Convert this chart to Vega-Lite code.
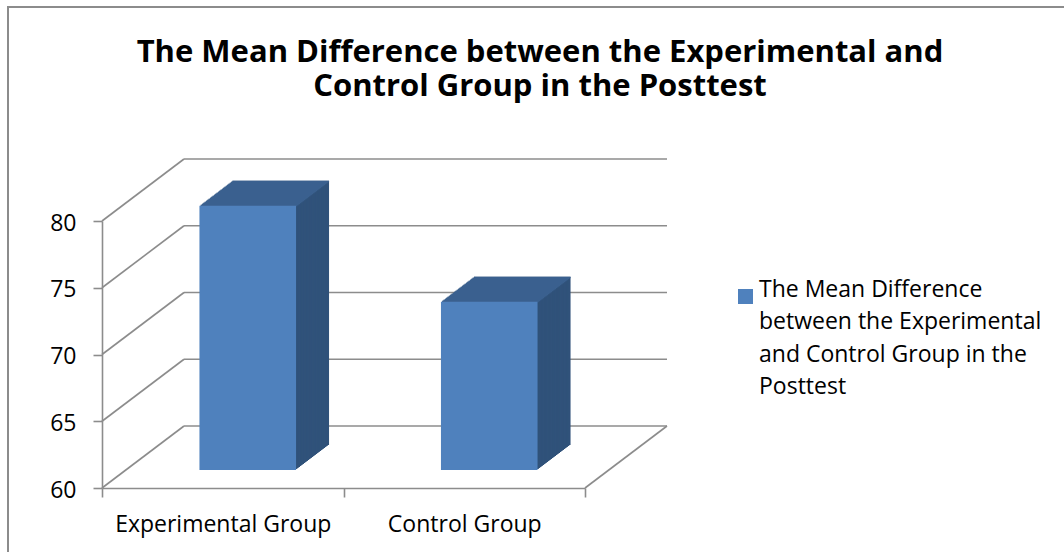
{
  "$schema": "https://vega.github.io/schema/vega-lite/v6.json",
  "width": 1056,
  "height": 545,
  "autosize": "none",
  "padding": {"left": 8, "top": 7, "right": 0, "bottom": 0},
  "background": "white",
  "config": {
    "view": {"stroke": "#8c8c8c", "strokeWidth": 2, "strokeDash": [1056, 1601, 545]},
    "style": {"guide-label": {"lineHeight": 32.5}}
  },
  "title": {
    "text": ["The Mean Difference between the Experimental and", "Control Group in the Posttest"],
    "font": "Open Sans",
    "fontSize": 31,
    "fontWeight": "bold",
    "color": "#000000",
    "anchor": "middle",
    "frame": "group",
    "baseline": "top",
    "lineHeight": 34.5,
    "offset": 0,
    "dx": 4,
    "dy": 96
  },
  "data": {
    "values": [
      {"group": "Experimental Group", "value": 79.8},
      {"group": "Control Group", "value": 72.6}
    ]
  },
  "layer": [
    {
      "mark": {"type": "bar", "opacity": 0, "width": {"band": 0.4}, "xOffset": 25, "yOffset": -18, "y2Offset": -18},
      "encoding": {
        "x": {
          "field": "group",
          "type": "nominal",
          "sort": null,
          "title": null,
          "scale": {"type": "band", "domain": ["Experimental Group", "Control Group"], "range": [94, 577], "paddingInner": 0, "paddingOuter": 0},
          "axis": {
            "orient": "bottom",
            "offset": -64,
            "title": null,
            "labelAngle": 0,
            "tickBand": "extent",
            "tickSize": 9,
            "tickWidth": 1.6,
            "tickColor": "#8c8c8c",
            "domainColor": "#8c8c8c",
            "domainWidth": 1.6,
            "labelFont": "Open Sans",
            "labelFontSize": 23,
            "labelColor": "#000000",
            "labelPadding": 16,
            "labelLimit": 0,
            "grid": false
          }
        },
        "y": {
          "field": "value",
          "type": "quantitative",
          "title": null,
          "scale": {"domain": [60, 80], "range": [481, 214], "nice": false, "zero": false},
          "axis": {
            "orient": "left",
            "offset": -94,
            "title": null,
            "values": [60, 65, 70, 75, 80],
            "tickSize": 9,
            "tickWidth": 1.6,
            "tickColor": "#8c8c8c",
            "domainColor": "#8c8c8c",
            "domainWidth": 1.6,
            "labelFont": "Open Sans",
            "labelFontSize": 23,
            "labelColor": "#000000",
            "labelPadding": 17,
            "labelOffset": 2,
            "grid": false
          }
        },
        "y2": {"datum": 60}
      }
    },
    {
      "data": {"values": [{"t": 60}, {"t": 65}, {"t": 70}, {"t": 75}, {"t": 80}]},
      "mark": {"type": "rule", "color": "#8c8c8c", "strokeWidth": 1.6, "xOffset": 82, "x2Offset": 82, "yOffset": -62},
      "encoding": {
        "x": {"datum": "Experimental Group", "type": "nominal", "bandPosition": 0, "title": null},
        "x2": {"datum": "Control Group", "bandPosition": 1},
        "y": {"field": "t", "type": "quantitative", "title": null}
      }
    },
    {
      "data": {"values": [{"t": 60}, {"t": 65}, {"t": 70}, {"t": 75}, {"t": 80}]},
      "mark": {"type": "rule", "color": "#8c8c8c", "strokeWidth": 1.6, "x2Offset": 82, "y2Offset": -62},
      "encoding": {
        "x": {"datum": "Experimental Group", "type": "nominal", "bandPosition": 0, "title": null},
        "x2": {"datum": "Experimental Group", "bandPosition": 0},
        "y": {"field": "t", "type": "quantitative", "title": null},
        "y2": {"field": "t"}
      }
    },
    {
      "data": {"values": [{"t": 60}]},
      "mark": {"type": "rule", "color": "#8c8c8c", "strokeWidth": 1.6, "x2Offset": 82, "y2Offset": -62},
      "encoding": {
        "x": {"datum": "Control Group", "type": "nominal", "bandPosition": 1, "title": null},
        "x2": {"datum": "Control Group", "bandPosition": 1},
        "y": {"field": "t", "type": "quantitative", "title": null},
        "y2": {"field": "t"}
      }
    },
    {
      "encoding": {
        "x": {"field": "group", "type": "nominal", "sort": null, "title": null},
        "y": {"field": "value", "type": "quantitative", "title": null},
        "y2": {"datum": 60}
      },
      "layer": [
        {"mark": {"type": "bar", "color": "#30527a", "width": {"band": 0.4}, "xOffset": 58, "yOffset": -43, "y2Offset": -43}},
        {"mark": {"type": "bar", "color": "#30527a", "width": {"band": 0.4}, "xOffset": 56.68, "yOffset": -42, "y2Offset": -42}},
        {"mark": {"type": "bar", "color": "#30527a", "width": {"band": 0.4}, "xOffset": 55.36, "yOffset": -41, "y2Offset": -41}},
        {"mark": {"type": "bar", "color": "#30527a", "width": {"band": 0.4}, "xOffset": 54.04, "yOffset": -40, "y2Offset": -40}},
        {"mark": {"type": "bar", "color": "#30527a", "width": {"band": 0.4}, "xOffset": 52.72, "yOffset": -39, "y2Offset": -39}},
        {"mark": {"type": "bar", "color": "#30527a", "width": {"band": 0.4}, "xOffset": 51.4, "yOffset": -38, "y2Offset": -38}},
        {"mark": {"type": "bar", "color": "#30527a", "width": {"band": 0.4}, "xOffset": 50.08, "yOffset": -37, "y2Offset": -37}},
        {"mark": {"type": "bar", "color": "#30527a", "width": {"band": 0.4}, "xOffset": 48.76, "yOffset": -36, "y2Offset": -36}},
        {"mark": {"type": "bar", "color": "#30527a", "width": {"band": 0.4}, "xOffset": 47.44, "yOffset": -35, "y2Offset": -35}},
        {"mark": {"type": "bar", "color": "#30527a", "width": {"band": 0.4}, "xOffset": 46.12, "yOffset": -34, "y2Offset": -34}},
        {"mark": {"type": "bar", "color": "#30527a", "width": {"band": 0.4}, "xOffset": 44.8, "yOffset": -33, "y2Offset": -33}},
        {"mark": {"type": "bar", "color": "#30527a", "width": {"band": 0.4}, "xOffset": 43.48, "yOffset": -32, "y2Offset": -32}},
        {"mark": {"type": "bar", "color": "#30527a", "width": {"band": 0.4}, "xOffset": 42.16, "yOffset": -31, "y2Offset": -31}},
        {"mark": {"type": "bar", "color": "#30527a", "width": {"band": 0.4}, "xOffset": 40.84, "yOffset": -30, "y2Offset": -30}},
        {"mark": {"type": "bar", "color": "#30527a", "width": {"band": 0.4}, "xOffset": 39.52, "yOffset": -29, "y2Offset": -29}},
        {"mark": {"type": "bar", "color": "#30527a", "width": {"band": 0.4}, "xOffset": 38.2, "yOffset": -28, "y2Offset": -28}},
        {"mark": {"type": "bar", "color": "#30527a", "width": {"band": 0.4}, "xOffset": 36.88, "yOffset": -27, "y2Offset": -27}},
        {"mark": {"type": "bar", "color": "#30527a", "width": {"band": 0.4}, "xOffset": 35.56, "yOffset": -26, "y2Offset": -26}},
        {"mark": {"type": "bar", "color": "#30527a", "width": {"band": 0.4}, "xOffset": 34.24, "yOffset": -25, "y2Offset": -25}},
        {"mark": {"type": "bar", "color": "#30527a", "width": {"band": 0.4}, "xOffset": 32.92, "yOffset": -24, "y2Offset": -24}},
        {"mark": {"type": "bar", "color": "#30527a", "width": {"band": 0.4}, "xOffset": 31.6, "yOffset": -23, "y2Offset": -23}},
        {"mark": {"type": "bar", "color": "#30527a", "width": {"band": 0.4}, "xOffset": 30.28, "yOffset": -22, "y2Offset": -22}},
        {"mark": {"type": "bar", "color": "#30527a", "width": {"band": 0.4}, "xOffset": 28.96, "yOffset": -21, "y2Offset": -21}},
        {"mark": {"type": "bar", "color": "#30527a", "width": {"band": 0.4}, "xOffset": 27.64, "yOffset": -20, "y2Offset": -20}},
        {"mark": {"type": "bar", "color": "#30527a", "width": {"band": 0.4}, "xOffset": 26.32, "yOffset": -19, "y2Offset": -19}}
      ]
    },
    {
      "encoding": {
        "x": {"field": "group", "type": "nominal", "sort": null, "title": null},
        "y": {"field": "value", "type": "quantitative", "title": null},
        "y2": {"field": "value"}
      },
      "layer": [
        {"mark": {"type": "bar", "color": "#3b618f", "width": {"band": 0.4}, "xOffset": 58, "yOffset": -43, "y2Offset": -41.5}},
        {"mark": {"type": "bar", "color": "#3b618f", "width": {"band": 0.4}, "xOffset": 56.68, "yOffset": -42, "y2Offset": -40.5}},
        {"mark": {"type": "bar", "color": "#3b618f", "width": {"band": 0.4}, "xOffset": 55.36, "yOffset": -41, "y2Offset": -39.5}},
        {"mark": {"type": "bar", "color": "#3b618f", "width": {"band": 0.4}, "xOffset": 54.04, "yOffset": -40, "y2Offset": -38.5}},
        {"mark": {"type": "bar", "color": "#3b618f", "width": {"band": 0.4}, "xOffset": 52.72, "yOffset": -39, "y2Offset": -37.5}},
        {"mark": {"type": "bar", "color": "#3b618f", "width": {"band": 0.4}, "xOffset": 51.4, "yOffset": -38, "y2Offset": -36.5}},
        {"mark": {"type": "bar", "color": "#3b618f", "width": {"band": 0.4}, "xOffset": 50.08, "yOffset": -37, "y2Offset": -35.5}},
        {"mark": {"type": "bar", "color": "#3b618f", "width": {"band": 0.4}, "xOffset": 48.76, "yOffset": -36, "y2Offset": -34.5}},
        {"mark": {"type": "bar", "color": "#3b618f", "width": {"band": 0.4}, "xOffset": 47.44, "yOffset": -35, "y2Offset": -33.5}},
        {"mark": {"type": "bar", "color": "#3b618f", "width": {"band": 0.4}, "xOffset": 46.12, "yOffset": -34, "y2Offset": -32.5}},
        {"mark": {"type": "bar", "color": "#3b618f", "width": {"band": 0.4}, "xOffset": 44.8, "yOffset": -33, "y2Offset": -31.5}},
        {"mark": {"type": "bar", "color": "#3b618f", "width": {"band": 0.4}, "xOffset": 43.48, "yOffset": -32, "y2Offset": -30.5}},
        {"mark": {"type": "bar", "color": "#3b618f", "width": {"band": 0.4}, "xOffset": 42.16, "yOffset": -31, "y2Offset": -29.5}},
        {"mark": {"type": "bar", "color": "#3b618f", "width": {"band": 0.4}, "xOffset": 40.84, "yOffset": -30, "y2Offset": -28.5}},
        {"mark": {"type": "bar", "color": "#3b618f", "width": {"band": 0.4}, "xOffset": 39.52, "yOffset": -29, "y2Offset": -27.5}},
        {"mark": {"type": "bar", "color": "#3b618f", "width": {"band": 0.4}, "xOffset": 38.2, "yOffset": -28, "y2Offset": -26.5}},
        {"mark": {"type": "bar", "color": "#3b618f", "width": {"band": 0.4}, "xOffset": 36.88, "yOffset": -27, "y2Offset": -25.5}},
        {"mark": {"type": "bar", "color": "#3b618f", "width": {"band": 0.4}, "xOffset": 35.56, "yOffset": -26, "y2Offset": -24.5}},
        {"mark": {"type": "bar", "color": "#3b618f", "width": {"band": 0.4}, "xOffset": 34.24, "yOffset": -25, "y2Offset": -23.5}},
        {"mark": {"type": "bar", "color": "#3b618f", "width": {"band": 0.4}, "xOffset": 32.92, "yOffset": -24, "y2Offset": -22.5}},
        {"mark": {"type": "bar", "color": "#3b618f", "width": {"band": 0.4}, "xOffset": 31.6, "yOffset": -23, "y2Offset": -21.5}},
        {"mark": {"type": "bar", "color": "#3b618f", "width": {"band": 0.4}, "xOffset": 30.28, "yOffset": -22, "y2Offset": -20.5}},
        {"mark": {"type": "bar", "color": "#3b618f", "width": {"band": 0.4}, "xOffset": 28.96, "yOffset": -21, "y2Offset": -19.5}},
        {"mark": {"type": "bar", "color": "#3b618f", "width": {"band": 0.4}, "xOffset": 27.64, "yOffset": -20, "y2Offset": -18.5}},
        {"mark": {"type": "bar", "color": "#3b618f", "width": {"band": 0.4}, "xOffset": 26.32, "yOffset": -19, "y2Offset": -17.5}}
      ]
    },
    {
      "mark": {"type": "bar", "width": {"band": 0.4}, "xOffset": 25, "yOffset": -18, "y2Offset": -18},
      "encoding": {
        "x": {"field": "group", "type": "nominal", "sort": null, "title": null},
        "y": {"field": "value", "type": "quantitative", "title": null},
        "y2": {"datum": 60},
        "color": {
          "datum": "The Mean Difference between the Experimental and Control Group in the Posttest",
          "type": "nominal",
          "scale": {"range": ["#4f81bd"]},
          "legend": {
            "orient": "none",
            "legendX": 726,
            "legendY": 278,
            "title": null,
            "symbolType": "square",
            "symbolSize": 225,
            "symbolStrokeWidth": 0,
            "labelFont": "Open Sans",
            "labelFontSize": 23,
            "labelColor": "#000000",
            "labelBaseline": "alphabetic",
            "labelLimit": 0,
            "labelOffset": 2,
            "labelExpr": "['The Mean Difference', 'between the Experimental', 'and Control Group in the', 'Posttest']"
          }
        }
      }
    }
  ]
}
